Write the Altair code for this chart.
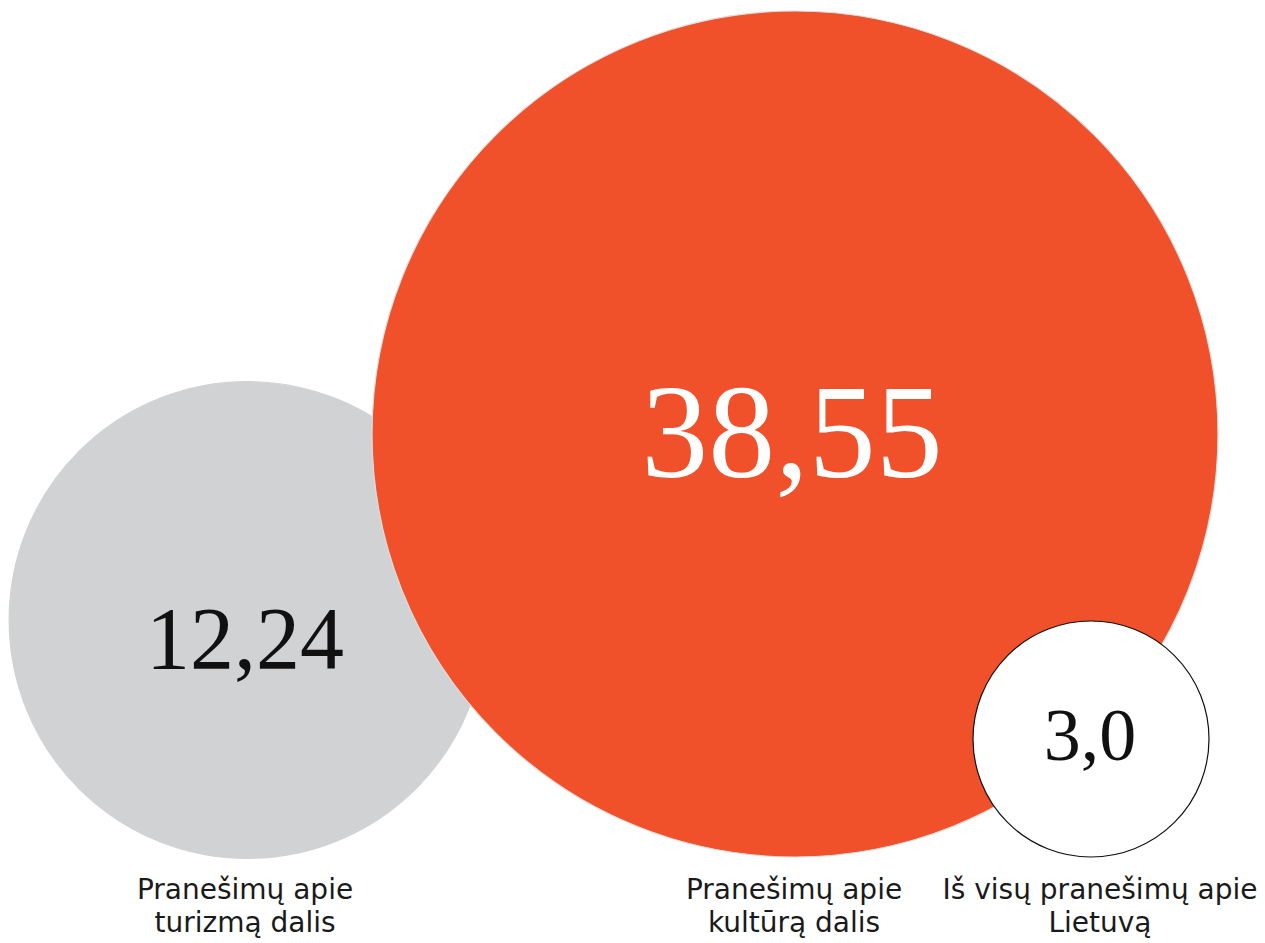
import altair as alt
import pandas as pd

# data
names = ["turizmas", "kultura", "lietuva"]
values = [12.24, 38.55, 3.0]
value_labels = ["12,24", "38,55", "3,0"]
labels = ["Pranešimų apie\nturizmą dalis", "Pranešimų apie\nkultūrą dalis", "Iš visų pranešimų apie\nLietuvą"]
center_x = [247.5, 795, 1091]
center_y = [620, 434, 739]
number_x = [245, 792, 1090]
number_y = [668, 477, 760]
label_x = [245, 794, 1100]
label_y = [899, 899, 899]
fills = ["#D1D2D4", "#F0502A", "#FFFFFF"]
strokes = ["#D1D2D4", "#DDDDDD", "#111111"]
text_colors = ["#111111", "#FFFFFF", "#111111"]
font_sizes = [88, 134, 74]

df = pd.DataFrame({
    "name": names, "value": values, "vlabel": value_labels, "label": labels,
    "cx": center_x, "cy": center_y, "nx": number_x, "ny": number_y,
    "lx": label_x, "ly": label_y,
    "fill": fills, "stroke": strokes, "tcolor": text_colors, "fs": font_sizes,
    "order": [0, 1, 2],
})

W, H = 1249, 932
xs = alt.Scale(domain=[8, 8 + W], range=[0, W])
ys = alt.Scale(domain=[8, 8 + H], range=[0, H])
size_max = (2 * 423) ** 2
ss = alt.Scale(domain=[0, 38.55], range=[0, size_max], zero=True)

base = alt.Chart(df)

circles = base.mark_point(shape="circle", filled=True, opacity=1, strokeWidth=1.2, strokeOpacity=1).encode(
    x=alt.X("cx:Q", scale=xs, axis=None),
    y=alt.Y("cy:Q", scale=ys, axis=None),
    size=alt.Size("value:Q", scale=ss, legend=None),
    fill=alt.Fill("fill:N", scale=None),
    stroke=alt.Stroke("stroke:N", scale=None),
    order=alt.Order("order:Q"),
)

numbers = base.mark_text(font="Liberation Serif", fontWeight=300, baseline="alphabetic", align="center").encode(
    x=alt.X("nx:Q", scale=xs, axis=None),
    y=alt.Y("ny:Q", scale=ys, axis=None),
    text="vlabel:N",
    color=alt.Color("tcolor:N", scale=None),
    size=alt.Size("fs:Q", scale=None),
)

text_labels = base.mark_text(font="DejaVu Sans", fontWeight=400, fontSize=28, lineHeight=33,
                             baseline="alphabetic", align="center", color="#1a1a1a", lineBreak="\n").encode(
    x=alt.X("lx:Q", scale=xs, axis=None),
    y=alt.Y("ly:Q", scale=ys, axis=None),
    text="label:N",
)

chart = alt.layer(circles, numbers, text_labels).properties(
    width=W, height=H,
    autosize=alt.AutoSizeParams(type="none"),
    padding=0,
    background="#FFFFFF",
).configure_view(stroke=None)

chart.save("out.html", embed_options={"renderer": "svg", "actions": False})
